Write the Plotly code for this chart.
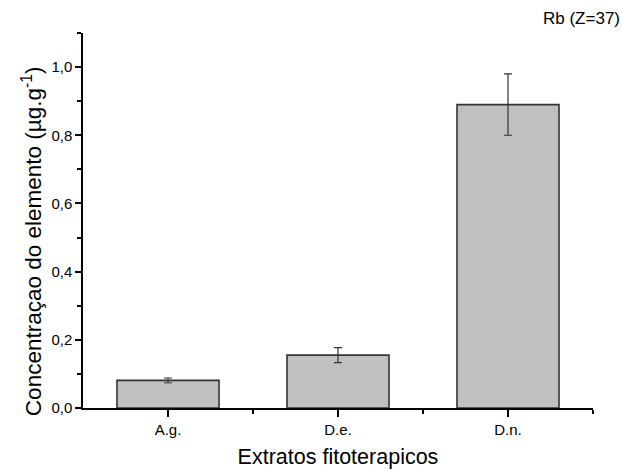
import plotly.graph_objects as go

categories = ["A.g.", "D.e.", "D.n."]
values = [0.081, 0.155, 0.89]
errors = [0.007, 0.022, 0.09]
y_ticks = [0.0, 0.2, 0.4, 0.6, 0.8, 1.0]

xpos = list(range(len(categories)))
FONT = "Liberation Sans, Arial, sans-serif"

fig = go.Figure()
fig.add_trace(go.Bar(
    x=xpos, y=values, width=0.6,
    marker=dict(color="#C0C0C0", line=dict(color="#333333", width=1.6)),
    error_y=dict(type="data", array=errors, visible=True,
                 color="#333333", thickness=1.2, width=4),
    showlegend=False,
))

fig.update_layout(
    width=622, height=470,
    margin=dict(l=83, r=29, t=33, b=62, autoexpand=False),
    plot_bgcolor="white", paper_bgcolor="white",
    separators=",.",
    font=dict(family=FONT, color="black", size=15),
    xaxis=dict(
        range=[-0.5, 2.5], tickmode="array", tickvals=xpos, ticktext=categories,
        showline=True, linecolor="black", linewidth=1.5, mirror=False,
        ticks="outside", ticklen=7, tickwidth=1.5, tickcolor="black",
        minor=dict(tickmode="array", tickvals=[0.5, 1.5, 2.5], ticks="outside",
                   ticklen=4, tickwidth=1.5, tickcolor="black"),
        showgrid=False, zeroline=False, automargin=False,
        tickfont=dict(size=15),
        title=dict(text="Extratos fitoterapicos", font=dict(size=21.5), standoff=12),
    ),
    yaxis=dict(
        range=[0, 1.1], tickmode="array", tickvals=y_ticks, tickformat=".1f",
        showline=True, linecolor="black", linewidth=1.5,
        ticks="outside", ticklen=6, tickwidth=1.5, tickcolor="black",
        minor=dict(dtick=0.1, ticks="outside", ticklen=4, tickwidth=1.5, tickcolor="black"),
        showgrid=False, zeroline=False, automargin=False,
        tickfont=dict(size=15),
    ),
    annotations=[
        dict(text="Rb (Z=37)", x=1.0, xanchor="right", y=1.0, yanchor="bottom",
             xref="paper", yref="paper", showarrow=False, yshift=3, xshift=29,
             font=dict(size=17)),
        dict(text="Concentraçao do elemento (µg.g<sup>-1</sup>)", textangle=-90,
             x=-0.1, xanchor="center", y=0.445, yanchor="middle",
             xref="paper", yref="paper", showarrow=False, font=dict(size=22.5)),
    ],
)

fig.write_html("out.html")
